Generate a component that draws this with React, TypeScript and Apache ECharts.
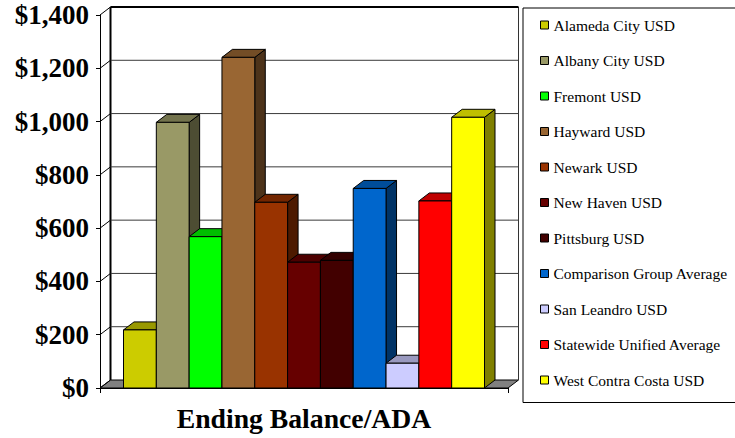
import React, { useEffect, useRef } from "react";
import * as echarts from "echarts";

const CATEGORY = ["Ending Balance/ADA"];
const NAMES = [
  "Alameda City USD",
  "Albany City USD",
  "Fremont USD",
  "Hayward USD",
  "Newark USD",
  "New Haven USD",
  "Pittsburg USD",
  "Comparison Group Average",
  "San Leandro USD",
  "Statewide Unified Average",
  "West Contra Costa USD",
];
const VALUES = [218, 997, 568, 1241, 697, 472, 479, 749, 93, 702, 1016];
const COLORS = [
  "#CCCC00",
  "#999966",
  "#00FF00",
  "#996633",
  "#993300",
  "#660000",
  "#420000",
  "#0066CC",
  "#CCCCFF",
  "#FF0000",
  "#FFFF00",
];
const TICKS = [0, 200, 400, 600, 800, 1000, 1200, 1400];

const FONT = "Liberation Serif";
const DX = 10.5;
const DY = -8;
const BAR_FILL = 361 / 408;

function shade(hex: string, f: number): string {
  const n = parseInt(hex.slice(1), 16);
  const r = Math.round(((n >> 16) & 255) * f);
  const g = Math.round(((n >> 8) & 255) * f);
  const b = Math.round((n & 255) * f);
  return "rgb(" + r + "," + g + "," + b + ")";
}

export default function App() {
  const ref = useRef<HTMLDivElement>(null);
  useEffect(() => {
    if (!ref.current) return;
    document.body.style.margin = "0";
    const chart = echarts.init(ref.current, null, { renderer: "svg" });
    const maxTick = TICKS[TICKS.length - 1];

    const wallSeries: any = {
      type: "custom",
      name: "__walls",
      z: 1,
      silent: true,
      clip: false,
      data: TICKS.map((t) => [0, t]),
      renderItem: (params: any, api: any) => {
        const c = api.coord([0, api.value(1)]);
        const base = api.coord([0, 0]);
        const top = api.coord([0, maxTick]);
        const band = api.size([1, 0])[0];
        const left = c[0] - band / 2;
        const right = c[0] + band / 2;
        const y = c[1];
        const children: any[] = [];
        if (params.dataIndex === 0) {
          children.push({
            type: "polygon",
            shape: {
              points: [
                [left, base[1]],
                [right, base[1]],
                [right + DX, base[1] + DY],
                [left + DX, base[1] + DY],
              ],
            },
            style: { fill: "#808080", stroke: "#000", lineWidth: 1 },
          });
          children.push({
            type: "line",
            shape: { x1: left + DX, y1: base[1] + DY, x2: left + DX, y2: top[1] + DY },
            style: { stroke: "#000", lineWidth: 2 },
          });
          children.push({
            type: "line",
            shape: { x1: right + DX, y1: base[1] + DY, x2: right + DX, y2: top[1] + DY },
            style: { stroke: "#333", lineWidth: 1 },
          });
        } else {
          const isTop = api.value(1) === maxTick;
          children.push({
            type: "line",
            shape: { x1: left + DX, y1: y + DY, x2: right + DX, y2: y + DY },
            style: { stroke: isTop ? "#000" : "#3a3a3a", lineWidth: isTop ? 2 : 1 },
          });
        }
        children.push({
          type: "line",
          shape: { x1: left, y1: y, x2: left + DX, y2: y + DY },
          style: { stroke: "#000", lineWidth: 1 },
        });
        return { type: "group", children };
      },
    };

    const barSeries = NAMES.map((name, i) => ({
      type: "custom",
      name,
      z: 2 + i,
      clip: false,
      itemStyle: { color: COLORS[i] },
      data: [[0, VALUES[i]]],
      encode: { x: 0, y: 1 },
      renderItem: (params: any, api: any) => {
        const c = api.coord([0, api.value(1)]);
        const base = api.coord([0, 0]);
        const band = api.size([1, 0])[0];
        const inner = band * BAR_FILL;
        const w = inner / NAMES.length;
        const x0 = c[0] - inner / 2 + i * w;
        const x1 = x0 + w;
        const yT = c[1];
        const yB = base[1];
        const stroke = { stroke: "#000", lineWidth: 1 };
        return {
          type: "group",
          children: [
            {
              type: "polygon",
              shape: {
                points: [
                  [x1, yT],
                  [x1 + DX, yT + DY],
                  [x1 + DX, yB + DY],
                  [x1, yB],
                ],
              },
              style: { fill: shade(COLORS[i], 0.5), ...stroke },
            },
            {
              type: "polygon",
              shape: {
                points: [
                  [x0, yT],
                  [x1, yT],
                  [x1 + DX, yT + DY],
                  [x0 + DX, yT + DY],
                ],
              },
              style: { fill: shade(COLORS[i], 0.75), ...stroke },
            },
            {
              type: "rect",
              shape: { x: x0, y: yT, width: w, height: yB - yT },
              style: { fill: COLORS[i], ...stroke },
            },
          ],
        };
      },
    }));

    chart.setOption({
      animation: false,
      backgroundColor: "#fff",
      grid: { left: 100, top: 15, width: 408, height: 373, containLabel: false },
      xAxis: {
        type: "category",
        data: CATEGORY,
        axisLine: { show: true, lineStyle: { color: "#000", width: 1 } },
        axisTick: { show: true, length: 5, lineStyle: { color: "#000" } },
        axisLabel: {
          fontFamily: FONT,
          fontWeight: "bold",
          fontSize: 27.7,
          color: "#000",
          margin: 16,
        },
        splitLine: { show: false },
      },
      yAxis: {
        type: "value",
        min: 0,
        max: 1400,
        interval: 200,
        axisLine: { show: true, lineStyle: { color: "#000", width: 1 } },
        axisTick: { show: true, length: 4, lineStyle: { color: "#000" } },
        axisLabel: {
          fontFamily: FONT,
          fontWeight: "bold",
          fontSize: 27,
          color: "#000",
          margin: 11,
          formatter: (v: number) => "$" + v.toLocaleString("en-US"),
        },
        splitLine: { show: false },
      },
      legend: {
        data: NAMES,
        orient: "vertical",
        left: 540,
        top: 17,
        padding: 0,
        itemWidth: 8,
        itemHeight: 8,
        itemGap: 19.5,
        icon: "rect",
        selectedMode: false,
        itemStyle: { borderColor: "#000", borderWidth: 1 },
        textStyle: { fontFamily: FONT, fontWeight: "normal", fontSize: 15.5, color: "#000", lineHeight: 16 },
      },
      graphic: [
        {
          type: "rect",
          left: 520.5,
          top: 5.5,
          shape: { width: 230, height: 394.5 },
          style: { fill: "none", stroke: "#000", lineWidth: 1 },
          silent: true,
        },
      ],
      series: [wallSeries, ...barSeries],
    });
    return () => chart.dispose();
  }, []);
  return <div ref={ref} style={{ width: 735, height: 438 }} />;
}
